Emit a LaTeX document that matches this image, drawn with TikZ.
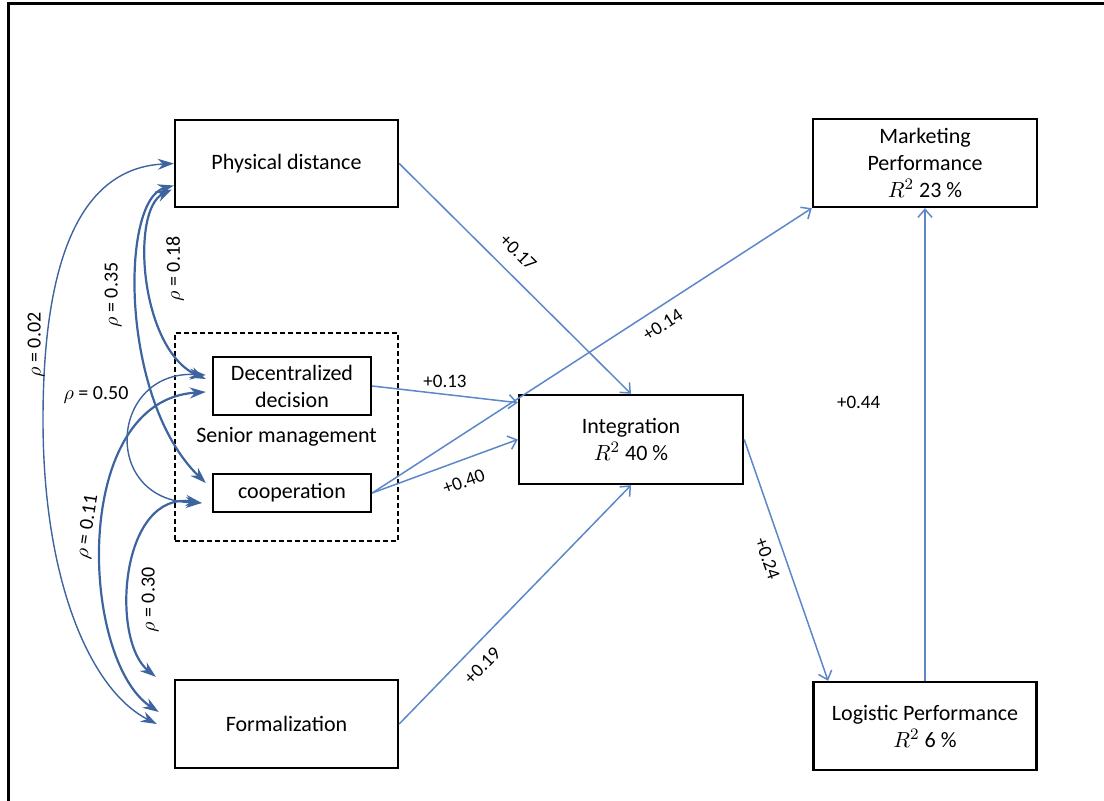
\documentclass[tikz,border=0pt]{standalone}
\usepackage{fontspec}
\setmainfont{Carlito}
\usetikzlibrary{arrows.meta}

\definecolor{pathBlue}{RGB}{92,135,200}
\definecolor{corrBlue}{RGB}{62,100,160}

\begin{document}
\begin{tikzpicture}[
        x=0.5pt, y=-0.5pt,
        boxNode/.style={
            rectangle,
            draw,
            line width=1.2pt,
            align=center,
            inner sep=0pt,
            font=\fontsize{11}{13.5}\selectfont
        },
        groupBox/.style={
            rectangle,
            draw,
            line width=0.8pt,
            dash pattern=on 2.5pt off 1.5pt,
            font=\fontsize{11}{13.5}\selectfont
        },
        pathArrow/.style={
            draw=pathBlue,
            line width=0.75pt,
            -{Straight Barb[length=4pt,width=7pt]}
        },
        corrArrow/.style={
            draw=corrBlue,
            line width=1.1pt,
            {Stealth[length=8pt,width=5.5pt]}-{Stealth[length=8pt,width=5.5pt]}
        },
        thinCorr/.style={
            corrArrow,
            line width=0.7pt
        },
        coefLabel/.style={
            font=\fontsize{9.5}{11}\selectfont,
            inner sep=2pt
        },
        rhoLabel/.style={
            font=\fontsize{10}{12}\selectfont,
            inner sep=1pt
        }
    ]
        \useasboundingbox (0,0) rectangle (1104,801);
        \draw[line width=1.5pt] (8,801) -- (8,4) -- (1104,4);

        \node[groupBox, minimum width=111.5pt, minimum height=104pt] (senior) at (286.5,437) {Senior management};

        \node[boxNode, minimum width=111.5pt, minimum height=43.5pt] (phys) at (286.5,163.5) {Physical distance};
        \node[boxNode, minimum width=79pt, minimum height=29pt] (dec) at (292,386) {Decentralized\\decision};
        \node[boxNode, minimum width=79pt, minimum height=19pt] (coop) at (292,493) {cooperation};
        \node[boxNode, minimum width=111.5pt, minimum height=44pt] (form) at (286.5,724) {Formalization};

        \node[boxNode, minimum width=112pt, minimum height=44.5pt] (integ) at (631,439.5) {Integration\\$R^2$ 40 \%};
        \node[boxNode, minimum width=112pt, minimum height=44pt] (mark) at (925,163) {Marketing\\Performance\\$R^2$ 23 \%};
        \node[boxNode, minimum width=111.5pt, minimum height=44pt] (logi) at (925,726) {Logistic Performance\\$R^2$ 6 \%};

        % paths
        \draw[pathArrow] (phys.east) -- node[coefLabel, sloped, above=5pt, pos=0.45] {+0.17} (integ.north);
        \draw[pathArrow] (dec.east) -- node[coefLabel, above=1pt, pos=0.5] {+0.13} (integ.162);
        \draw[pathArrow] (coop.east) -- node[coefLabel, sloped, below=5pt, pos=0.58] {+0.40} (integ.west);
        \draw[pathArrow] (coop.east) -- node[coefLabel, sloped, below=3pt, pos=0.64] {+0.14} (mark.south west);
        \draw[pathArrow] (form.east) -- node[coefLabel, sloped, below=4pt, pos=0.3] {+0.19} (integ.south);
        \draw[pathArrow] (integ.east) -- node[coefLabel, sloped, below=3pt, pos=0.47] {+0.24} (logi.155);
        \draw[pathArrow] (logi.north) -- node[coefLabel, left=20pt, pos=0.59] {+0.44} (mark.south);

        % correlations
        \draw[thinCorr] (phys.west) .. controls (80,168) and (43,260) .. (43,420)
            .. controls (43,580) and (90,690) .. ([xshift=-8.5pt]form.west);
        \draw[corrArrow] ([yshift=-11pt]phys.west) .. controls (120,200) and (120,400) .. ([xshift=-3pt,yshift=5pt]coop.west);
        \draw[corrArrow] ([xshift=-1pt,yshift=-13pt]phys.west) .. controls (130,210) and (140,350) .. ([xshift=-3pt,yshift=3.5pt]dec.west);
        \draw[thinCorr] ([xshift=-3pt,yshift=5.5pt]dec.west) .. controls (110,370) and (100,500) .. ([xshift=-5pt,yshift=-5pt]coop.west);
        \draw[corrArrow] ([xshift=-3pt,yshift=-3pt]dec.west) .. controls (70,400) and (80,660) .. ([xshift=-7.5pt,yshift=6pt]form.west);
        \draw[corrArrow] ([xshift=-5pt,yshift=-5pt]coop.west) .. controls (120,490) and (110,640) .. ([xshift=-9pt,yshift=1pt]form.north west);

        \node[rhoLabel, rotate=90] (r02) at (36,345) {$\rho$ = 0.02};
        \node[rhoLabel, rotate=90] (r35) at (113,295) {$\rho$ = 0.35};
        \node[rhoLabel, rotate=90] (r18) at (175,269) {$\rho$ = 0.18};
        \node[rhoLabel] (r50) at (96,395) {$\rho$ = 0.50};
        \node[rhoLabel, rotate=81] (r11) at (88,527) {$\rho$ = 0.11};
        \node[rhoLabel, rotate=90] (r30) at (150,600) {$\rho$ = 0.30};

    \end{tikzpicture}
\end{document}
